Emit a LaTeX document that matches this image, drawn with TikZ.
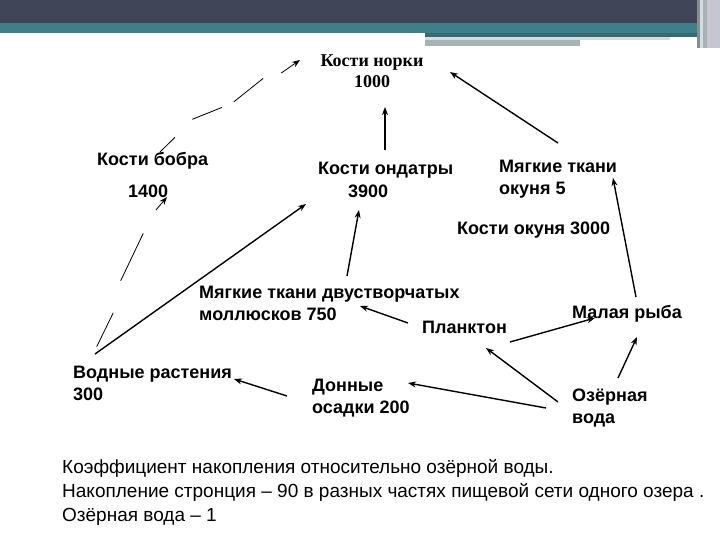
\documentclass[tikz,border=0pt]{standalone}
\usepackage{fontspec}
\setmainfont{Liberation Sans}
\newfontfamily\timesbf{Liberation Serif}
\usetikzlibrary{arrows.meta}
\definecolor{hdark}{HTML}{404657}
\definecolor{hteal}{HTML}{3E7F88}
\definecolor{hgray}{HTML}{A6B3B5}
\definecolor{hlight}{HTML}{D4DCDD}
\definecolor{hlav}{HTML}{C6C6D2}
\begin{document}
\begin{tikzpicture}[x=1pt,y=-1pt,
  lbl/.style={font=\fontsize{18}{22}\selectfont\bfseries, inner sep=0pt, align=left, anchor=base west},
  note/.style={font=\fontsize{19}{24}\selectfont, inner sep=0pt, align=left, anchor=base west},
  arr/.style={-{Stealth[length=8pt,width=6pt]}, line width=1.4pt},
  darr/.style={-{Stealth[length=8pt,width=6pt]}, line width=0.8pt}]
\useasboundingbox (0,0) rectangle (720,540);
\fill[white] (0,0) rectangle (720,540);
% header
\fill[hdark] (0,0) rectangle (720,23);
\fill[hteal] (0,23) rectangle (720,33);
\fill[hteal!85!black] (425,33) rectangle (700,37);
\fill[hlight] (425,37) rectangle (670,40);
\fill[hgray] (425,40) rectangle (580,46);
\fill[hgray!80!black] (697,0) rectangle (700,48);
\fill[hlight] (700,0) rectangle (703,48);
\fill[hgray] (703,0) rectangle (707,48);
\fill[hlav] (707,0) rectangle (720,48);

% nodes (multi-line nodes: anchor at the baseline of the last line)
\node[inner sep=0pt, align=center, anchor=base, font=\timesbf\fontsize{18}{21}\selectfont\bfseries] (norka) at (372,88) {Кости норки\\1000};
\node[lbl] (bobr) at (97,166) {Кости бобра};
\node[lbl] (n1400) at (128,198) {1400};
\node[lbl] (ondatra) at (318,197) {Кости ондатры\\\hspace*{30pt}3900};
\node[lbl] (okunsoft) at (499,195) {Мягкие ткани\\окуня 5};
\node[lbl] (okunbone) at (457,235) {Кости окуня 3000};
\node[lbl] (moll) at (199,320) {Мягкие ткани двустворчатых\\моллюсков 750};
\node[lbl] (plankton) at (422,333) {Планктон};
\node[lbl] (fish) at (572,318) {Малая рыба};
\node[lbl] (water) at (572,423) {Озёрная\\вода};
\node[lbl] (plants) at (73,400) {Водные растения\\300};
\node[lbl] (sed) at (312,413) {Донные\\осадки 200};
\node[note] (caption) at (62,521) {Коэффициент накопления относительно озёрной воды.\\Накопление стронция – 90 в разных частях пищевой сети одного озера .\\Озёрная вода – 1};

% connector end points
\coordinate (okunsoft-out) at (558,143);
\coordinate (norka-in-r) at (450,72);
\coordinate (ondatra-out) at (385,150);
\coordinate (norka-in-b) at (385,107);
\coordinate (moll-out-up) at (347,276);
\coordinate (ondatra-in-b) at (359,210);
\coordinate (plants-out-a) at (95,354);
\coordinate (ondatra-in-l) at (306,204);
\coordinate (plants-out-b) at (96.7,346.7);
\coordinate (n1400-in) at (167,197);
\coordinate (bobr-out) at (160,152);
\coordinate (norka-in-l) at (300,60);
\coordinate (plankton-out-l) at (408,323);
\coordinate (moll-in) at (360,306);
\coordinate (plankton-out-r) at (510,342);
\coordinate (fish-in) at (595,318);
\coordinate (water-out-a) at (558,402);
\coordinate (plankton-in) at (486,348);
\coordinate (water-out-b) at (546,408);
\coordinate (sed-in) at (408,383);
\coordinate (water-out-c) at (618,378);
\coordinate (fish-in-b) at (637,337);
\coordinate (fish-out) at (636,297);
\coordinate (okunsoft-in) at (613,178);
\coordinate (sed-out) at (287,396);
\coordinate (plants-in) at (234,379);

% connectors
\draw[arr] (okunsoft-out) -- (norka-in-r);
\draw[arr] (ondatra-out) -- (norka-in-b);
\draw[arr] (moll-out-up) -- (ondatra-in-b);
\draw[arr] (plants-out-a) -- (ondatra-in-l);
\draw[darr, dash pattern=on 37.8pt off 32.8pt on 52.5pt off 26.5pt on 40pt]
  (plants-out-b) -- (113.3,312.7) -- (120.7,280.7) -- (143.3,233.3) -- (156,210) -- (n1400-in);
\draw[darr, dash pattern=on 21pt off 25pt on 32pt off 13pt on 37.5pt off 19pt on 40pt]
  (bobr-out) -- (175,137.3) -- (192.3,119.3) -- (222.3,107.3) -- (234,101.7) -- (263.3,78.3) -- (281.7,72.7) -- (norka-in-l);
\draw[arr] (plankton-out-l) -- (moll-in);
\draw[arr] (plankton-out-r) -- (fish-in);
\draw[arr] (water-out-a) -- (plankton-in);
\draw[arr] (water-out-b) -- (sed-in);
\draw[arr] (water-out-c) -- (fish-in-b);
\draw[arr] (fish-out) -- (okunsoft-in);
\draw[arr] (sed-out) -- (plants-in);
\end{tikzpicture}
\end{document}
